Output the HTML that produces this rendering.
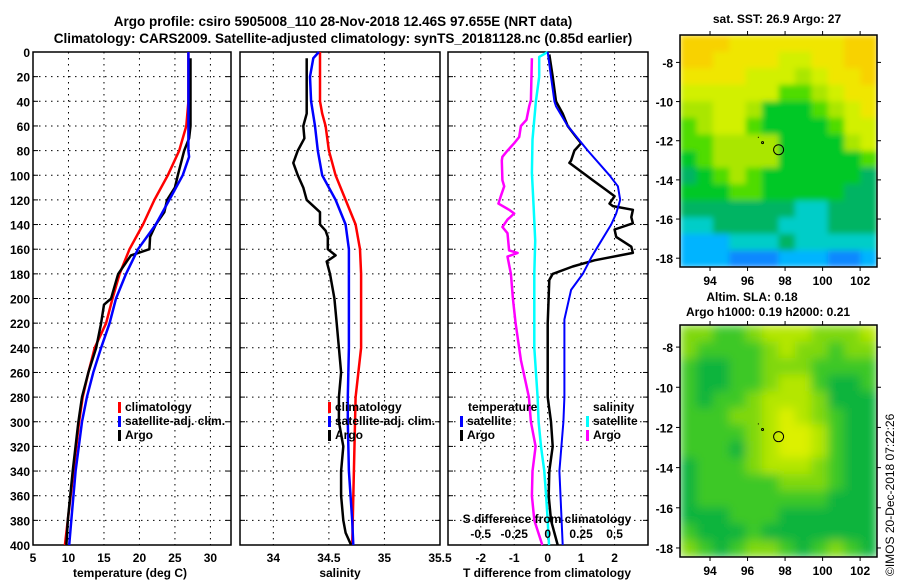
<!DOCTYPE html>
<html><head><meta charset="utf-8"><style>
body{margin:0;background:#fff;}
svg{display:block;font-family:"Liberation Sans",Arial,sans-serif;font-weight:bold;}
</style></head><body>
<svg id="fig" width="900" height="580" viewBox="0 0 900 580">
<text x="343" y="26" font-size="13.5" text-anchor="middle">Argo profile: csiro 5905008_110 28-Nov-2018 12.46S 97.655E (NRT data)</text>
<text x="343" y="43" font-size="13.5" text-anchor="middle">Climatology: CARS2009. Satellite-adjusted climatology: synTS_20181128.nc (0.85d earlier)</text>
<text x="777" y="23" font-size="12" text-anchor="middle">sat. SST: 26.9 Argo: 27</text>
<text x="752" y="301" font-size="12" text-anchor="middle">Altim. SLA: 0.18</text>
<text x="768" y="316" font-size="12" text-anchor="middle">Argo h1000: 0.19 h2000: 0.21</text>
<text transform="translate(894,576) rotate(-90)" font-size="12" font-weight="normal">©IMOS 20-Dec-2018 07:22:26</text>
<g id="plots"></g>
</svg>
<script>
// ---------- data ----------
const tempClimDepth=[0,40,60,80,100,120,140,160,180,200,220,240,260,280,300,340,380,400];
const tempClim=[26.9,26.9,26.6,25.6,24.0,22.1,20.5,18.6,17.2,16.2,15.3,13.7,12.8,12.0,11.5,10.7,9.9,9.5];
const tempSatDepth=[0,80,85,100,120,140,160,180,200,220,240,260,280,300,340,380,400];
const tempSat=[26.9,26.9,27.0,26.1,24.2,22.3,19.8,18.1,16.7,15.8,14.6,13.5,12.6,11.9,11.0,10.4,10.1];
const tempArgoDepth=[5,60,70,80,100,110,120,130,140,150,160,165,180,190,200,205,220,240,260,280,300,340,380,400];
const tempArgo=[27.2,27.2,27.0,26.3,25.4,25.0,23.9,23.5,22.3,21.5,21.4,18.8,17.0,16.5,16.0,15.0,14.6,13.9,12.8,11.9,11.4,10.6,9.9,9.7];

const salClimDepth=[0,40,50,60,80,100,120,140,160,180,240,280,400];
const salClim=[34.42,34.42,34.44,34.47,34.50,34.56,34.65,34.74,34.78,34.79,34.79,34.74,34.71];
const salSatDepth=[0,5,20,40,60,80,100,120,140,160,180,240,280,300,340,380,400];
const salSat=[34.41,34.36,34.33,34.34,34.375,34.40,34.44,34.56,34.65,34.68,34.68,34.68,34.67,34.67,34.68,34.71,34.72];
const salArgoDepth=[5,50,60,70,80,90,100,110,120,130,140,145,150,160,165,170,180,200,220,240,260,280,300,320,340,360,380,390,400];
const salArgo=[34.30,34.30,34.27,34.28,34.22,34.18,34.22,34.27,34.30,34.42,34.42,34.47,34.49,34.49,34.56,34.48,34.51,34.55,34.57,34.59,34.61,34.59,34.59,34.63,34.61,34.61,34.63,34.65,34.70];

const dTSatDepth=[0,20,40,44,60,80,100,109,120,131,140,160,167,180,193,217,260,280,300,340,400];
const dTSat=[0,0.1,0.2,0.25,0.6,1.2,1.85,2.1,2.17,2.05,1.9,1.45,1.3,1.05,0.7,0.5,0.5,0.5,0.47,0.35,0.45];
const dTArgoDepth=[2,20,40,50,60,69,74,80,88,90,96,104,112,117,123,125,128,134,139,144,150,158,163,169,174,180,185,220,260,280,300,320,340,360,380,400];
const dTArgo=[0.05,0.15,0.25,0.45,0.6,0.85,1.0,0.8,0.7,0.65,0.95,1.35,1.75,2.0,1.85,1.95,2.55,2.5,2.55,2.0,2.05,2.5,2.55,1.4,0.75,0.15,0.05,0.0,0.0,0.0,0.1,0.15,0.05,0.03,0.1,0.3];
const dSSatDepth=[0,4,20,40,71,98,125,153,180,240,280,300,320,340,360,380,400];
const dSSat=[0,-0.063,-0.063,-0.088,-0.113,-0.118,-0.105,-0.093,-0.1,-0.1,-0.075,-0.068,-0.05,-0.025,-0.012,0,0.01];
const dSArgoDepth=[5,39,44,55,60,69,74,80,85,88,104,109,117,123,128,131,136,142,147,161,163,166,180,200,220,250,280,300,320,340,360,380,400];
const dSArgo=[-0.118,-0.125,-0.138,-0.158,-0.2,-0.213,-0.25,-0.3,-0.338,-0.343,-0.338,-0.325,-0.35,-0.368,-0.288,-0.25,-0.3,-0.338,-0.3,-0.288,-0.225,-0.3,-0.275,-0.26,-0.24,-0.2,-0.14,-0.125,-0.09,-0.113,-0.118,-0.1,-0.04];

const depthTicks=[0,20,40,60,80,100,120,140,160,180,200,220,240,260,280,300,320,340,360,380,400];
const tempTicks=[5,10,15,20,25,30];
const salTicks=[34,34.5,35,35.5];
const tdTicks=[-2,-1,0,1,2];
const sdTicks=[-0.5,-0.25,0,0.25,0.5];
const sdTickLabels=['-0.5','-0.25','0','0.25','0.5'];

// map grids (colour class 0..9), 12 columns x 14 rows
const sstGrid=[
"999888888899","998888778899","888877767889","777777556788","667764445678","567754444577",
"556666444467","456666444445","345654444443","444554444433","333333322333","223333222333",
"111222322222","111000111001"];
const slaGrid=[
"665567776667","655556766566","544556665555","544556775445","545567776444","555667876544",
"555567887544","555467887544","455567776544","455555666544","455555555444","444555444444",
"544454444444","654566545654"];
const lonTicks=[94,96,98,100,102];
const latTicks=[-8,-10,-12,-14,-16,-18];
const argoLon=97.655, argoLat=-12.46;

// ---------- drawing ----------
const NS='http://www.w3.org/2000/svg';
const root=document.getElementById('plots');
function mk(tag,attrs,parent){const e=document.createElementNS(NS,tag);for(const k in attrs)e.setAttribute(k,attrs[k]);(parent||root).appendChild(e);return e;}
const Y0=52,Y1=545;
const yD=d=>Y0+(d/400)*(Y1-Y0);

function panel(name,x0,x1,vmin,vmax,ticks,labelFmt,showDepth){
  const g=mk('g',{});
  
  
  const sx=v=>x0+(v-vmin)/(vmax-vmin)*(x1-x0);
  depthTicks.forEach(d=>{
    if(d>0&&d<400){const l=mk('line',{x1:x0,x2:x1,y1:yD(d),y2:yD(d),stroke:'#000','stroke-width':1,'stroke-dasharray':'1.5 4.5'},g);
    }
    mk('line',{x1:x0,x2:x0+5,y1:yD(d),y2:yD(d),stroke:'#000'},g);
    mk('line',{x1:x1-5,x2:x1,y1:yD(d),y2:yD(d),stroke:'#000'},g);
    if(showDepth){const t=mk('text',{x:x0-3,y:yD(d)+5,'font-size':12,'text-anchor':'end'},g);t.textContent=d;
      }
  });
  ticks.forEach(v=>{
    const x=sx(v);
    if(x>x0+1&&x<x1-1){mk('line',{x1:x,x2:x,y1:Y0,y2:Y1,stroke:'#000','stroke-dasharray':'1.5 4.5'},g);}
    const t=mk('text',{x:x,y:Y1+17,'font-size':12,'text-anchor':'middle'},g);t.textContent=labelFmt(v);
    
  });
  mk('rect',{x:x0,y:Y0,width:x1-x0,height:Y1-Y0,fill:'none',stroke:'#000','stroke-width':1.5},g);
  return {g,sx};
}
function series(p,depths,vals,color,w,name,sxf){
  const f=sxf||p.sx;
  const pts=depths.map((d,i)=>f(vals[i]).toFixed(1)+','+yD(d).toFixed(1)).join(' ');
  const pl=mk('polyline',{points:pts,fill:'none',stroke:color,'stroke-width':w,'stroke-linejoin':'round'},p.g);
  
  
}
function legend(g,x,y,items){
  items.forEach((it,i)=>{
    mk('rect',{x:x,y:y+i*14-9,width:3,height:11,fill:it[1]},g);
    const t=mk('text',{x:x+7,y:y+i*14,'font-size':12},g);t.textContent=it[0];
    
  });
}
function xlabel(g,x,text,nm){const t=mk('text',{x:x,y:Y1+32,'font-size':12,'text-anchor':'middle'},g);t.textContent=text;
  }

// Panel 1: temperature
const p1=panel('temperature',33,231,5,32.9,tempTicks,v=>v,true);
series(p1,tempClimDepth,tempClim,'#f00',2.5,'temp-climatology-line');
series(p1,tempArgoDepth,tempArgo,'#000',2.5,'temp-argo-line');
series(p1,tempSatDepth,tempSat,'#00f',2.5,'temp-satellite-line');
legend(p1.g,118,411,[['climatology','#f00'],['satellite-adj. clim.','#00f'],['Argo','#000']]);
xlabel(p1.g,130,'temperature (deg C)','temperature-axis-title');

// Panel 2: salinity
const p2=panel('salinity',240,440,33.7,35.5,salTicks,v=>v,false);
series(p2,salClimDepth,salClim,'#f00',2.5,'sal-climatology-line');
series(p2,salSatDepth,salSat,'#00f',2.5,'sal-satellite-line');
series(p2,salArgoDepth,salArgo,'#000',2.5,'sal-argo-line');
legend(p2.g,328,411,[['climatology','#f00'],['satellite-adj. clim.','#00f'],['Argo','#000']]);
xlabel(p2.g,340,'salinity','salinity-axis-title');

// Panel 3: differences
const p3=panel('difference',448,648,-2.98,3.0,tdTicks,v=>v,false);
const sxS=v=>p3.sx(v*4);
series(p3,dSArgoDepth,dSArgo,'#f0f',2.5,'sal-diff-argo-line',sxS);
series(p3,dSSatDepth,dSSat,'#0ff',2.5,'sal-diff-satellite-line',sxS);
series(p3,dTArgoDepth,dTArgo,'#000',2.5,'temp-diff-argo-line');
series(p3,dTSatDepth,dTSat,'#00f',2,'temp-diff-satellite-line');
{const t=mk('text',{x:468,y:411,'font-size':12},p3.g);t.textContent='temperature';
 
 const s=mk('text',{x:593,y:411,'font-size':12},p3.g);s.textContent='salinity';
 }
legend(p3.g,460,425,[['satellite','#00f'],['Argo','#000']]);
legend(p3.g,586,425,[['satellite','#0ff'],['Argo','#f0f']]);
{const t=mk('text',{x:547,y:523,'font-size':12,'text-anchor':'middle'},p3.g);t.textContent='S difference from climatology';
 }
sdTicks.forEach((v,i)=>{const t=mk('text',{x:sxS(v),y:538,'font-size':12,'text-anchor':'middle'},p3.g);t.textContent=sdTickLabels[i];
 });
xlabel(p3.g,547,'T difference from climatology','t-diff-axis-title');

// Maps
const pal=['#0a88ff','#00b4ff','#00cdc8','#00b464','#00c828','#50dc00','#aae600','#d2f000','#f0e600','#f8d200'];
const pal2=['#0a88ff','#00b4ff','#00cdc8','#00aa50','#10b43c','#3cc828','#80d810','#b4e600','#dcf000','#f0e600'];
function map(name,x0,x1,y0,y1,lat0,lat1,grid,colors,blurId){
  const g=mk('g',{});
  
  
  const lon0=92.4,lon1=102.9;
  const sx=v=>x0+(v-lon0)/(lon1-lon0)*(x1-x0);
  const sy=v=>y0+(lat0-v)/(lat0-lat1)*(y1-y0);
  const cw=(x1-x0)/grid[0].length,ch=(y1-y0)/grid.length;
  const cg=mk('g',{filter:'url(#'+blurId+')'},g);
  grid.forEach((row,r)=>{for(let c=0;c<row.length;c++){
    mk('rect',{x:x0+c*cw,y:y0+r*ch,width:cw+0.5,height:ch+0.5,fill:colors[+row[c]]},cg);}});
  mk('rect',{x:x0,y:y0,width:x1-x0,height:y1-y0,fill:'none',stroke:'#000','stroke-width':1.5},g);
  lonTicks.forEach(v=>{mk('line',{x1:sx(v),x2:sx(v),y1:y0,y2:y0-4,stroke:'#000'},g);
    mk('line',{x1:sx(v),x2:sx(v),y1:y1,y2:y1+4,stroke:'#000'},g);
    const t=mk('text',{x:sx(v),y:y1+18,'font-size':12,'text-anchor':'middle'},g);t.textContent=v;
    });
  latTicks.forEach(v=>{mk('line',{x1:x0,x2:x0-4,y1:sy(v),y2:sy(v),stroke:'#000'},g);
    mk('line',{x1:x1,x2:x1+4,y1:sy(v),y2:sy(v),stroke:'#000'},g);
    const t=mk('text',{x:x0-7,y:sy(v)+5,'font-size':12,'text-anchor':'end'},g);t.textContent=v;
    });
  const c=mk('circle',{cx:sx(argoLon),cy:sy(argoLat),r:5,fill:'none',stroke:'#000','stroke-width':1},g);
  
  mk('circle',{cx:sx(96.8),cy:sy(-12.1),r:1,fill:'none',stroke:'#000'},g);
  mk('rect',{x:sx(96.55),y:sy(-11.8),width:1,height:1,fill:'#000'},g);
}
const defs=mk('defs',{},document.getElementById('fig'));
const flt=mk('filter',{id:'blur',x:0,y:0,width:1,height:1},defs);
mk('feGaussianBlur',{stdDeviation:5,edgeMode:'duplicate'},flt);
const flt2=mk('filter',{id:'blur2',x:0,y:0,width:1,height:1},defs);
mk('feGaussianBlur',{stdDeviation:3,edgeMode:'duplicate'},flt2);
map('sst-map',680,877,35,267,-6.6,-18.45,sstGrid,pal,'blur2');
map('sla-map',680,877,325,557,-6.9,-18.45,slaGrid,pal2,'blur');
</script>
</body></html>
